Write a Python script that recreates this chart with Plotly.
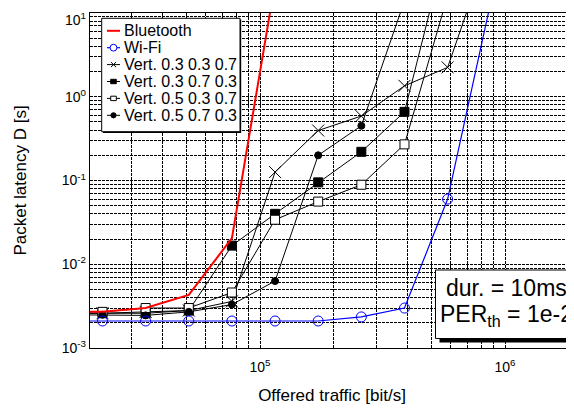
import plotly.graph_objects as go

# ---------------- data ----------------
offered_traffic = [15170, 22756, 34133, 51200, 76800, 115200, 172800,
                   259200, 388800, 583200, 874800]

bluetooth = [0.0027, 0.0027, 0.0030, 0.0043, 0.0205, 23]
wifi = [0.0021, 0.0021, 0.0021, 0.0021, 0.0021, 0.0021, 0.0021,
        0.00235, 0.0030, 0.060, 13.5]
vert_03_03_07 = [0.0026, 0.0026, 0.0027, 0.0028, 0.0036, 0.126, 0.395,
                 0.588, 1.35, 2.24, 70]
vert_03_07_03 = [0.0026, 0.0026, 0.0026, 0.0028, 0.0167, 0.040, 0.095,
                 0.22, 0.66, 74]
vert_05_03_07 = [0.0027, 0.0027, 0.0030, 0.0030, 0.0046, 0.034, 0.056,
                 0.089, 0.27, 16]
vert_05_07_03 = [0.0025, 0.0025, 0.00245, 0.0027, 0.0033, 0.0063, 0.20,
                 0.45, 14]

series_names = ["Bluetooth", "Wi-Fi", "Vert. 0.3 0.3 0.7", "Vert. 0.3 0.7 0.3",
                "Vert. 0.5 0.3 0.7", "Vert. 0.5 0.7 0.3"]

x_tick_decades = [5, 6]
x_tick_labels = ["10<sup>5</sup>", "10<sup>6</sup>"]
y_tick_decades = [-3, -2, -1, 0]
y_tick_labels = ["10<sup>-3</sup>", "10<sup>-2</sup>", "10<sup>-1</sup>",
                 "10<sup>0</sup>"]
y_top_label = "10<sup>1</sup>"   # top decade label, placed just inside the page
x_title = "Offered traffic [bit/s]"
y_title = "Packet latency D [s]"
note_lines = ["dur. = 10ms", "PER<sub>th</sub> = 1e-2"]

# ---------------- layout helpers ----------------
# the page body adds an 8px offset (left and top), so the figure is drawn
# 8px smaller and shifted so that the plot area lands where the reference has it
PAGE_OFF = 8
W, H = 574 - PAGE_OFF, 410 - PAGE_OFF
ML, MR, MT, MB = 90 - PAGE_OFF, 0, 13 - PAGE_OFF, 62
PW, PH = W - ML - MR, H - MT - MB
FONT = "Liberation Sans, Arial, Helvetica, sans-serif"


def px(x):
    # x given in page pixels of the reference
    return (x - PAGE_OFF - ML) / PW


def py(y):
    return (H - MB - (y - PAGE_OFF)) / PH


fig = go.Figure()

styles = [
    dict(mode="lines", line=dict(color="#ff0000", width=2)),
    dict(mode="lines+markers", line=dict(color="#0000ff", width=1.2),
         marker=dict(symbol="circle-open", size=10, color="#0000ff",
                     line=dict(width=1, color="#0000ff"))),
    dict(mode="lines+markers", line=dict(color="black", width=1),
         marker=dict(symbol="x-thin-open", size=12, color="black",
                     line=dict(width=1, color="black"))),
    dict(mode="lines+markers", line=dict(color="black", width=1),
         marker=dict(symbol="square", size=9, color="black",
                     line=dict(width=1, color="black"))),
    dict(mode="lines+markers", line=dict(color="black", width=1),
         marker=dict(symbol="square", size=9, color="white",
                     line=dict(width=1, color="black"))),
    dict(mode="lines+markers", line=dict(color="black", width=1),
         marker=dict(symbol="circle", size=7, color="black",
                     line=dict(width=1, color="black"))),
]
all_series = [bluetooth, wifi, vert_03_03_07, vert_03_07_03,
              vert_05_03_07, vert_05_07_03]

draw_order = [2, 3, 4, 5, 1, 0]
for i in draw_order:
    vals = all_series[i]
    fig.add_trace(go.Scatter(x=offered_traffic[:len(vals)], y=vals,
                             name=series_names[i], showlegend=False,
                             **styles[i]))

# major ticks on decades, minor grid on 2..9 x 10^n
x_major = [10 ** e for e in x_tick_decades]
y_major = [10.0 ** e for e in y_tick_decades]
x_minor = [m * 10 ** e for e in range(4, 7) for m in range(2, 10)]
y_minor = [m * 10.0 ** e for e in range(-3, 1) for m in range(2, 10)]

GRID_DASH = "3px,1px"
common = dict(showgrid=True, gridcolor="black", gridwidth=1,
              griddash=GRID_DASH, zeroline=False, ticks="",
              showline=True, linecolor="black", linewidth=1.3,
              automargin=False,
              tickfont=dict(size=14, color="black", family=FONT))

fig.update_xaxes(type="log", range=[4.3061, 4.3061 + PW / 245.0],
                 tickmode="array", tickvals=x_major, ticktext=x_tick_labels,
                 ticklabelstandoff=6,
                 minor=dict(tickmode="array", tickvals=x_minor, showgrid=True,
                            gridcolor="black", gridwidth=1, griddash=GRID_DASH,
                            ticks=""),
                 mirror=True,
                 title=dict(text=x_title, font=dict(size=17, color="black", family=FONT),
                            standoff=15),
                 **common)
fig.update_yaxes(type="log", range=[-3, 1],
                 tickmode="array", tickvals=y_major, ticktext=y_tick_labels,
                 minor=dict(tickmode="array", tickvals=y_minor, showgrid=True,
                            gridcolor="black", gridwidth=1, griddash=GRID_DASH,
                            ticks=""),
                 mirror=False,
                 title=dict(text=y_title, font=dict(size=17, color="black", family=FONT),
                            standoff=30),
                 **common)

shapes = []
annotations = []

# top decade label of the y axis (kept fully inside the page)
annotations.append(dict(text=y_top_label, xref="paper", yref="paper",
                        x=px(87.5), y=1.0 + MT / PH, xanchor="right", yanchor="top",
                        showarrow=False,
                        font=dict(size=14, color="black", family=FONT)))

# ---------- legend box (drawn as layout decoration) ----------
LEG = dict(x0=101.7, x1=240, y0=18.3, y1=131.7, row0=30.8, step=16.9,
           line_x0=107, line_x1=120, text_x=122, font=16)
shapes.append(dict(type="rect", xref="paper", yref="paper", layer="above",
                   x0=px(LEG["x0"] + 1.2), x1=px(LEG["x1"] + 1.2),
                   y0=py(LEG["y1"] + 1.2), y1=py(LEG["y0"] + 1.2),
                   fillcolor="black", line=dict(width=0)))
shapes.append(dict(type="rect", xref="paper", yref="paper", layer="above",
                   x0=px(LEG["x0"]), x1=px(LEG["x1"]),
                   y0=py(LEG["y1"]), y1=py(LEG["y0"]),
                   fillcolor="white", line=dict(color="black", width=1)))

for i, name in enumerate(series_names):
    ry = LEG["row0"] + i * LEG["step"]
    col = styles[i]["line"]["color"]
    lw = styles[i]["line"]["width"]
    shapes.append(dict(type="line", xref="paper", yref="paper", layer="above",
                       x0=px(LEG["line_x0"]), x1=px(LEG["line_x1"]),
                       y0=py(ry), y1=py(ry), line=dict(color=col, width=lw)))
    cx = (LEG["line_x0"] + LEG["line_x1"]) / 2
    if i == 1:
        r = 3.4
        shapes.append(dict(type="circle", xref="paper", yref="paper", layer="above",
                           x0=px(cx - r), x1=px(cx + r), y0=py(ry + r), y1=py(ry - r),
                           fillcolor="white", line=dict(color=col, width=1)))
    elif i == 2:
        r = 2.6
        path = "M %f %f L %f %f M %f %f L %f %f" % (
            px(cx - r), py(ry - r), px(cx + r), py(ry + r),
            px(cx - r), py(ry + r), px(cx + r), py(ry - r))
        shapes.append(dict(type="path", xref="paper", yref="paper", layer="above",
                           path=path, line=dict(color="black", width=1)))
    elif i in (3, 4):
        rx, ry2 = 2.8, 2.2
        shapes.append(dict(type="rect", xref="paper", yref="paper", layer="above",
                           x0=px(cx - rx), x1=px(cx + rx), y0=py(ry + ry2), y1=py(ry - ry2),
                           fillcolor="black" if i == 3 else "white",
                           line=dict(color="black", width=1)))
    elif i == 5:
        r = 2.6
        shapes.append(dict(type="circle", xref="paper", yref="paper", layer="above",
                           x0=px(cx - r), x1=px(cx + r), y0=py(ry + r), y1=py(ry - r),
                           fillcolor="black", line=dict(color="black", width=1)))
    annotations.append(dict(text=name, xref="paper", yref="paper",
                            x=px(LEG["text_x"]), y=py(ry), xanchor="left",
                            yanchor="middle", showarrow=False,
                            font=dict(size=LEG["font"], color="black", family=FONT)))

# ---------- parameter box ----------
BOX = dict(x0=435.5, x1=590, y0=270, y1=338.5, shadow=4)
shapes.append(dict(type="rect", xref="paper", yref="paper", layer="above",
                   x0=px(BOX["x0"] + BOX["shadow"]), x1=px(BOX["x1"] + BOX["shadow"]),
                   y0=py(BOX["y1"] + BOX["shadow"]), y1=py(BOX["y0"] + BOX["shadow"]),
                   fillcolor="black", line=dict(width=0)))
shapes.append(dict(type="rect", xref="paper", yref="paper", layer="above",
                   x0=px(BOX["x0"]), x1=px(BOX["x1"]),
                   y0=py(BOX["y1"]), y1=py(BOX["y0"]),
                   fillcolor="white", line=dict(color="black", width=1)))
for txt, cy in zip(note_lines, [288.3, 315.0]):
    annotations.append(dict(text=txt, xref="paper", yref="paper",
                            x=px(506), y=py(cy), xanchor="center", yanchor="middle",
                            showarrow=False,
                            font=dict(size=23, color="black", family=FONT)))

fig.update_layout(
    width=W, height=H,
    margin=dict(l=ML, r=MR, t=MT, b=MB, pad=0, autoexpand=False),
    paper_bgcolor="white", plot_bgcolor="white",
    font=dict(family=FONT, color="black"),
    showlegend=False,
    shapes=shapes, annotations=annotations,
)

fig.write_html("out.html")
